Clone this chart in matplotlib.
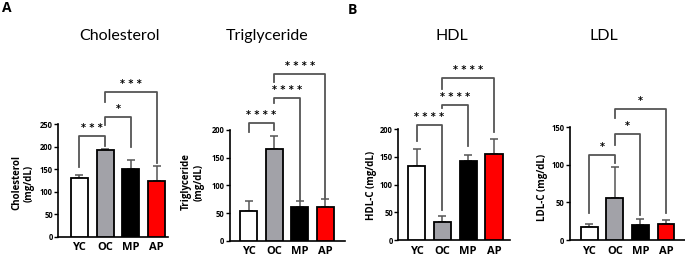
import matplotlib.pyplot as plt

# Grupos e cores das barras
grupos = ['YC', 'OC', 'MP', 'AP']
cores = ['#ffffff', '#a2a2a8', '#000000', '#ff0000']

# Médias e desvios
colesterol = [130, 192, 150, 125]
colesterolErro = [7, 3, 21, 32]
triglicerideo = [54, 165, 61, 61]
triglicerideoErro = [18, 25, 11, 15]
hdl = [134, 33, 143, 155]
hdlErro = [30, 11, 10, 27]
ldl = [17, 56, 20, 21]
ldlErro = [4, 41, 8, 6]

# Comparações: (grupo1, grupo2, altura, fim perna1, fim perna2, texto)
sigColesterol = [(0, 1, 224, 156, 202, '***'), (1, 2, 267, 248, 200, '*'), (1, 3, 322, 299, 163, '***')]
sigTriglicerideo = [(0, 1, 212, 197, 200, '****'), (1, 2, 257, 248, 73, '****'), (1, 3, 302, 287, 77, '****')]
sigHdl = [(0, 1, 208, 178, 54, '****'), (1, 2, 244, 239, 169, '****'), (1, 3, 292, 273, 196, '****')]
sigLdl = [(0, 1, 113, 36, 102, '*'), (1, 2, 141, 127, 33, '*'), (1, 3, 174, 163, 36, '*')]

W, H = 685, 260
fig = plt.figure(figsize=(W / 100, H / 100), dpi=100)
plt.rcParams['font.family'] = ['Lato', 'DejaVu Sans']

cinza = '#555555'
negrito = 'Open Sans'

def desenhaPainel(esq, dir, base, topoTick, pxTopoTick, xlim, valores, erros, sig, yticks,
                  titulo, tituloX, rotulo, rotuloX, rotuloY):
  topo = 48
  ax = fig.add_axes([esq / W, 1 - base / H, (dir - esq) / W, (base - topo) / H])
  escala = (base - pxTopoTick) / topoTick
  ax.set_ylim(0, (base - topo) / escala)
  ax.set_xlim(*xlim)
  x = range(len(grupos))
  ax.bar(x, valores, width=0.66, color=cores, edgecolor='black', linewidth=1.3, zorder=3)
  ax.errorbar(x, valores, yerr=[[0] * 4, erros], fmt='none', ecolor=cinza,
              elinewidth=1.1, capsize=3.2, capthick=1.1, zorder=2)
  for (a, b, y, p1, p2, txt) in sig:
    ax.plot([a, a, b, b], [p1, y, y, p2], color=cinza, lw=1.3, clip_on=False)
    ax.text((a + b) / 2, y + 3 / escala, ' '.join(txt), ha='center', va='bottom', fontsize=7,
            family='DejaVu Sans', fontweight='bold', clip_on=False)
  for s in ['top', 'right']:
    ax.spines[s].set_visible(False)
  ax.spines['left'].set_bounds(0, topoTick)
  ax.spines['left'].set_linewidth(1.2)
  ax.spines['bottom'].set_linewidth(1.2)
  ax.set_yticks(yticks)
  ax.set_yticklabels([str(v) for v in yticks], fontsize=5.5, fontweight='bold', family=negrito)
  ax.tick_params(axis='y', length=3, width=1, pad=1)
  ax.set_xticks(list(x))
  ax.set_xticklabels(grupos, fontsize=8, fontweight='bold', family=negrito)
  ax.tick_params(axis='x', length=0, pad=4)
  fig.text(tituloX / W, 1 - 36 / H, titulo, ha='center', va='center', fontsize=11.5)
  fig.text(rotuloX / W, 1 - rotuloY / H, rotulo, ha='center', va='center', rotation=90,
           fontsize=7, fontweight='bold', family=negrito, linespacing=1.2)
  return ax

desenhaPainel(58.3, 168.3, 236.7, 250, 124.3, (-0.82, 3.45), colesterol, colesterolErro,
              sigColesterol, [0, 50, 100, 150, 200, 250], 'Cholesterol', 120,
              'Cholesterol\n(mg/dL)', 23, 183)
desenhaPainel(230, 345, 240.7, 200, 130, (-0.73, 3.77), triglicerideo, triglicerideoErro,
              sigTriglicerideo, [0, 50, 100, 150, 200], 'Triglyceride', 267.5,
              'Triglyceride\n(mg/dL)', 193, 182)
desenhaPainel(398.3, 510, 240, 200, 129.3, (-0.71, 3.62), hdl, hdlErro,
              sigHdl, [0, 50, 100, 150, 200], 'HDL', 452,
              'HDL-C (mg/dL)', 371, 185)
desenhaPainel(570, 685, 240, 150, 127.3, (-0.75, 3.74), ldl, ldlErro,
              sigLdl, [0, 50, 100, 150], 'LDL', 604,
              'LDL-C (mg/dL)', 543, 187)

fig.text(7 / W, 1 - 8 / H, 'A', ha='center', va='center', fontsize=10, fontweight='bold', family=negrito)
fig.text(352 / W, 1 - 10 / H, 'B', ha='center', va='center', fontsize=10, fontweight='bold', family=negrito)

fig.savefig('out.png', dpi=100)
